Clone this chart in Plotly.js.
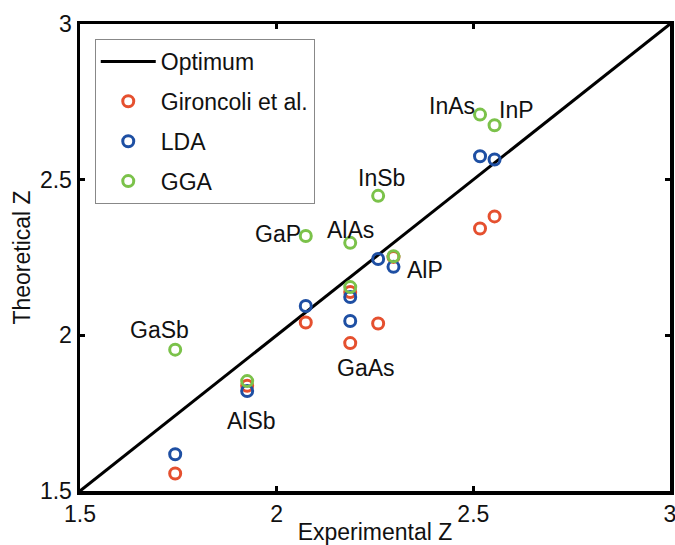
<!DOCTYPE html>
<html>
<head>
<meta charset="utf-8">
<script src="https://cdn.plot.ly/plotly-3.0.1.min.js"></script>
<style>html,body{margin:0;padding:0;background:#fff;}#chart{width:675px;height:545px;}</style>
</head>
<body>
<div id="chart"></div>
<script>
// Data
const compounds = ['GaSb','AlSb','GaP','AlAs','GaAs','InSb','AlP','InAs','InP'];
const expZ      = [1.742, 1.925, 2.074, 2.187, 2.187, 2.258, 2.297, 2.517, 2.554];
const gironcoli = [1.556, 1.838, 2.041, 2.139, 1.975, 2.038, 2.252, 2.343, 2.382];
const lda       = [1.618, 1.821, 2.094, 2.123, 2.046, 2.245, 2.220, 2.575, 2.565];
const gga       = [1.954, 1.853, 2.319, 2.297, 2.155, 2.448, 2.254, 2.709, 2.675];
const optX = [1.5, 3];
const optY = [1.5, 3];
const tickVals = [1.5, 2, 2.5, 3];
const tickText = ['1.5', '2', '2.5', '3'];
// label anchor positions (data coordinates)
const labelNames = ['InAs','InP','InSb','GaP','AlAs','AlP','GaAs','GaSb','AlSb'];
const labelX = [2.446, 2.611, 2.266, 2.004, 2.187, 2.377, 2.227, 1.703, 1.937];
const labelY = [2.736, 2.723, 2.504, 2.325, 2.337, 2.209, 1.894, 2.016, 1.724];

const FONT = 'Liberation Sans, Arial, Helvetica, sans-serif';
const FS = 23;
const TXT = '#111';
const mk = (c) => ({symbol: 'circle-open', size: 11, color: c, line: {width: 3, color: c}});

const traces = [
  {x: optX, y: optY, mode: 'lines', name: 'Optimum', line: {color: '#000', width: 3}, legendgroup: 'a'},
  {x: expZ, y: gironcoli, mode: 'markers', name: 'Gironcoli et al.', marker: mk('#e5502f'), legendgroup: 'b'},
  {x: expZ, y: lda, mode: 'markers', name: 'LDA', marker: mk('#1e4fa3'), legendgroup: 'c'},
  {x: expZ, y: gga, mode: 'markers', name: 'GGA', marker: mk('#7bc24a'), legendgroup: 'd'}
];

const axisCommon = {
  range: [1.5, 3], tickvals: tickVals, ticktext: tickText,
  ticks: 'inside', ticklen: 5, tickwidth: 3, tickcolor: '#000',
  showline: true, linewidth: 3.5, linecolor: '#000', mirror: 'ticks',
  showgrid: false, zeroline: false, ticklabeloverflow: 'allow',
  tickfont: {family: FONT, size: FS, color: TXT}
};

const layout = {
  width: 675, height: 545,
  margin: {l: 80, r: 5, t: 24, b: 54},
  paper_bgcolor: '#fff', plot_bgcolor: '#fff',
  font: {family: FONT, size: FS, color: TXT},
  xaxis: Object.assign({}, axisCommon, {title: {text: 'Experimental Z', font: {family: FONT, size: FS, color: TXT}, standoff: 0}}),
  yaxis: Object.assign({}, axisCommon, {title: {text: 'Theoretical Z', font: {family: FONT, size: FS, color: TXT}, standoff: 4}}),
  showlegend: true,
  legend: {
    x: 0.025, y: 0.968, xanchor: 'left', yanchor: 'top',
    bgcolor: '#fff', bordercolor: '#888', borderwidth: 1,
    font: {family: FONT, size: FS, color: TXT},
    tracegroupgap: 7, itemwidth: 55
  },
  annotations: labelNames.map((t, i) => ({
    x: labelX[i], y: labelY[i], text: t, showarrow: false,
    font: {family: FONT, size: FS, color: TXT}, xanchor: 'center', yanchor: 'middle'
  }))
};

Plotly.newPlot('chart', traces, layout, {displayModeBar: false, staticPlot: true});
</script>
</body>
</html>
